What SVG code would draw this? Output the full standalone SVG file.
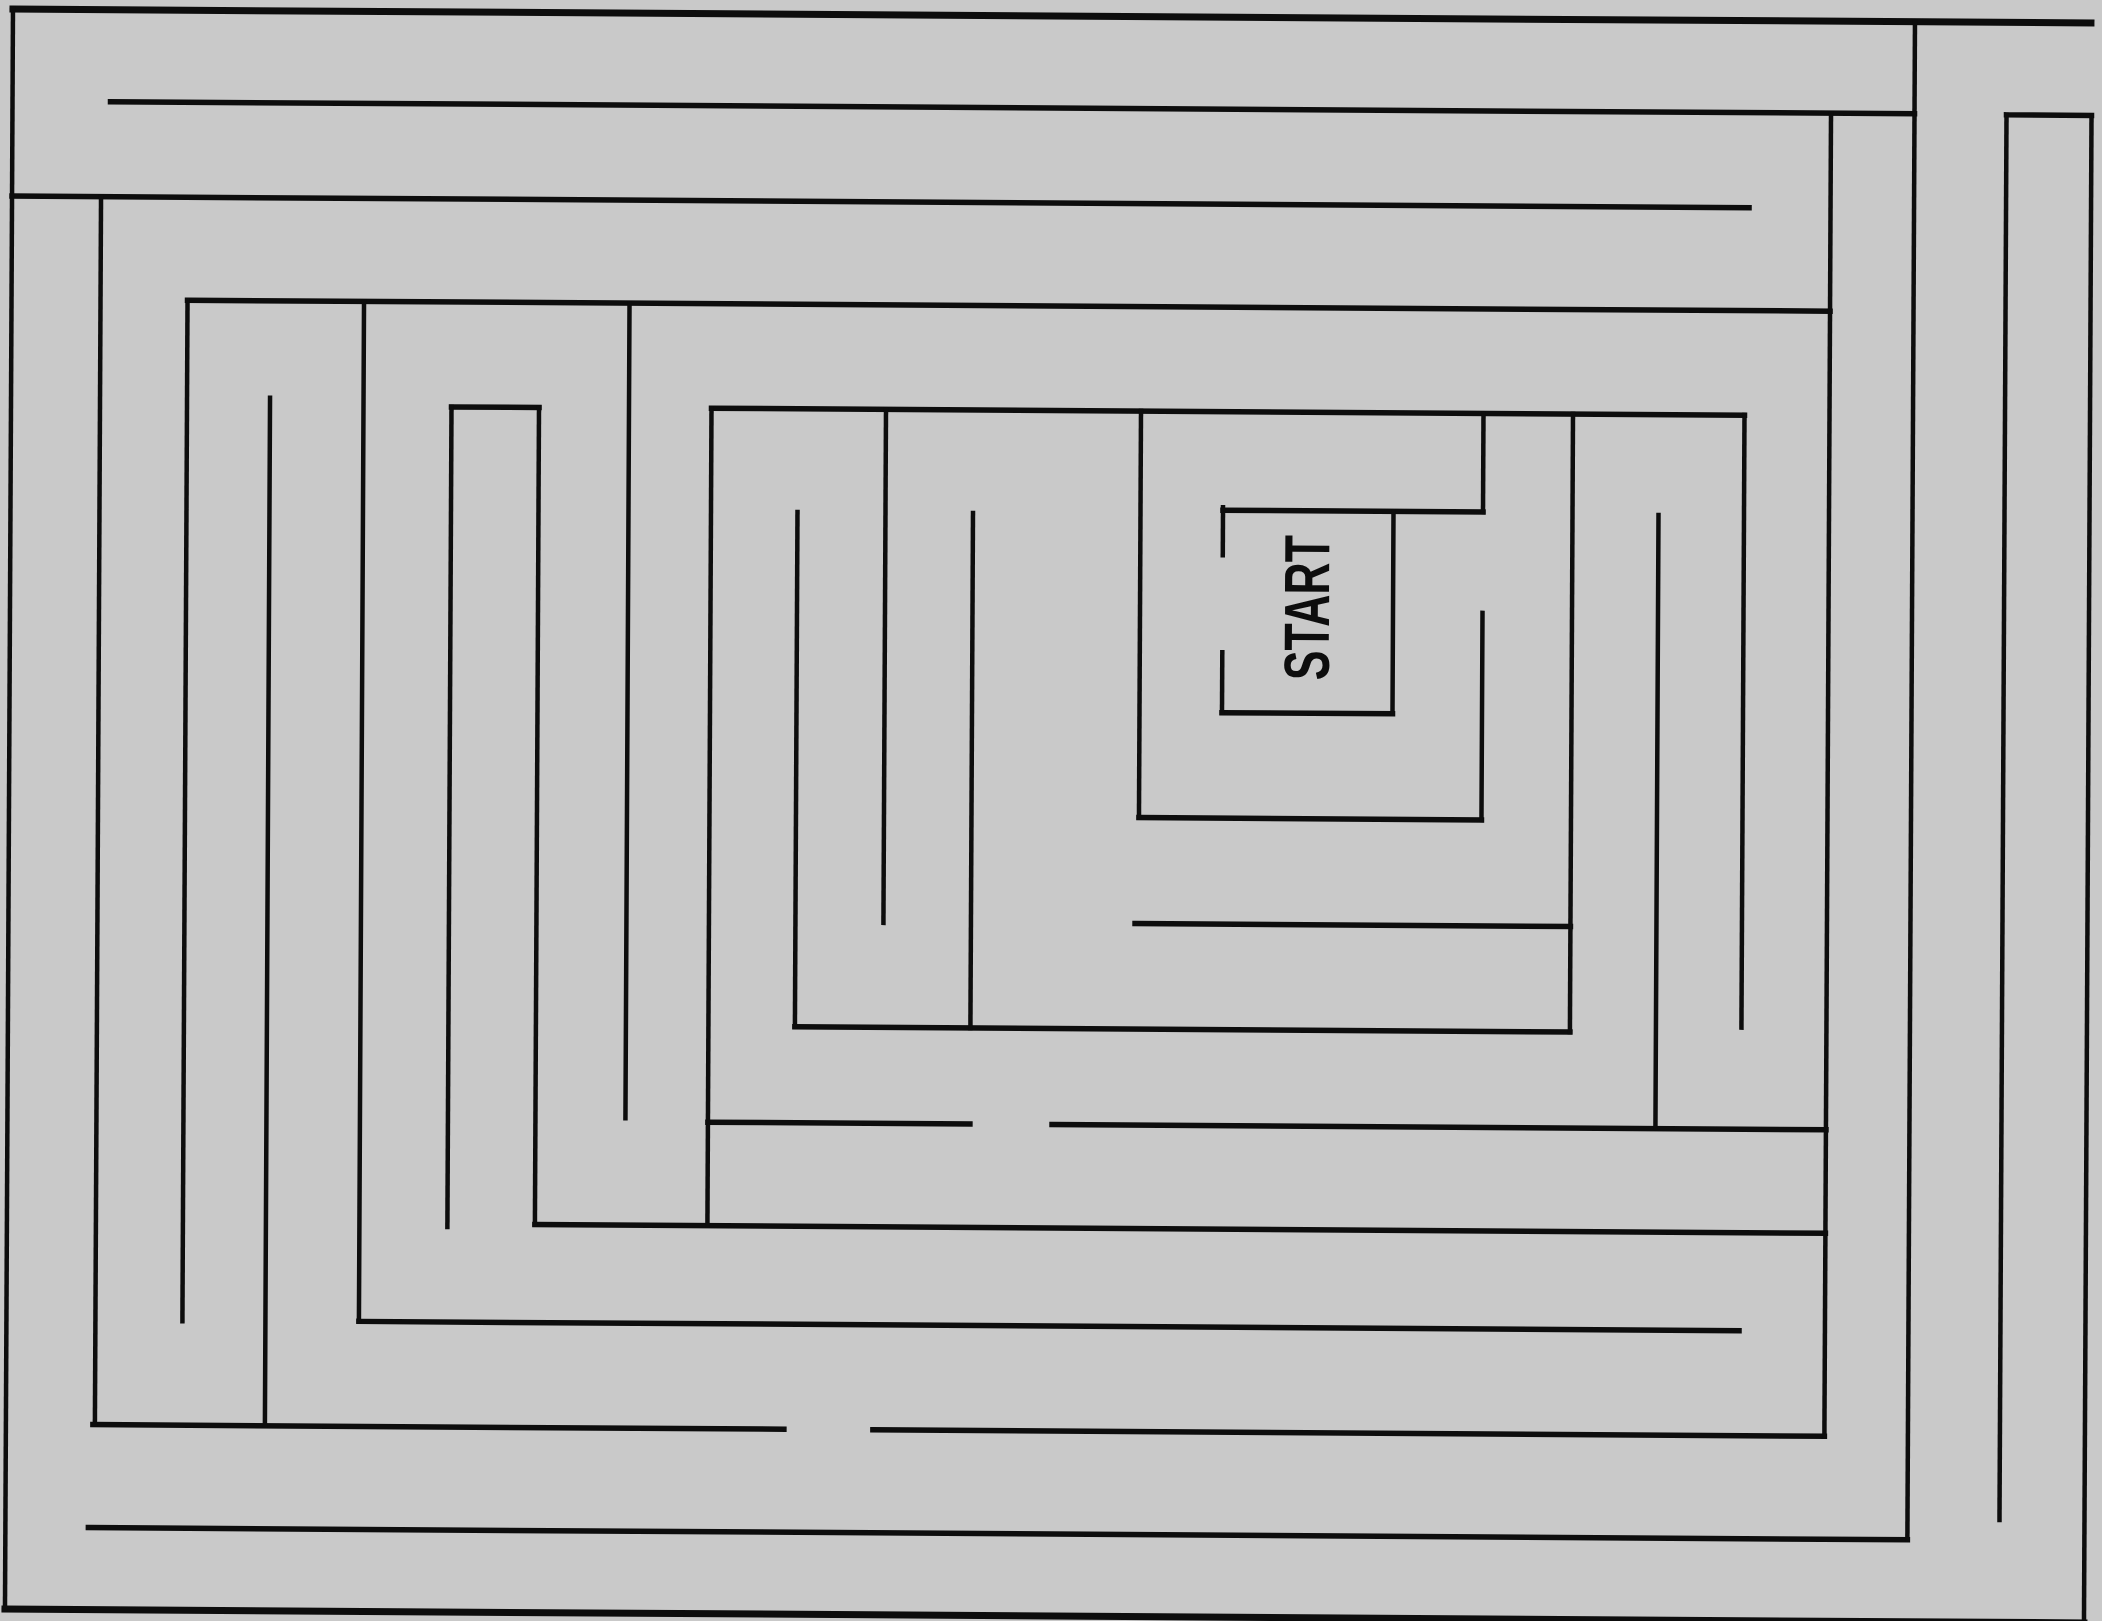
<svg xmlns="http://www.w3.org/2000/svg" width="2102" height="1621" viewBox="0 0 2102 1621">
  <style>
    .w line { stroke: #0d0d0d; stroke-linecap: square; fill: none; }
    .h { stroke-width: 5.5; }
    .v { stroke-width: 4.5; }
    .thick { stroke-width: 7; }
    .label { font-family: "Liberation Sans", Arial, sans-serif; font-size: 64px; font-weight: bold; fill: #0d0d0d; }
  </style>
  <rect x="0" y="0" width="2102" height="1621" fill="#c9c9c9"/>
  <g id="maze" transform="matrix(1,0.0067,-0.005,1,4.05,-7.04)">
    <g id="walls-horizontal" class="w">
      <line class="thick" x1="9" y1="16" x2="2087" y2="16"/>
      <line class="h" x1="107" y1="108" x2="1911" y2="108"/>
      <line class="h" x1="9" y1="203" x2="1746" y2="203"/>
      <line class="h" x1="185" y1="306" x2="1827.5" y2="306"/>
      <line class="h" x1="2003" y1="108.5" x2="2088" y2="108.5"/>
      <line class="h" x1="709.5" y1="410.5" x2="1742.5" y2="410.5"/>
      <line class="h" x1="449.5" y1="411" x2="537" y2="411"/>
      <line class="h" x1="1221.5" y1="509" x2="1481.5" y2="509"/>
      <line class="h" x1="1221.5" y1="711.5" x2="1392" y2="711.5"/>
      <line class="h" x1="1139" y1="817" x2="1481.5" y2="817"/>
      <line class="h" x1="1135.6" y1="923" x2="1571" y2="923"/>
      <line class="h" x1="796" y1="1028.5" x2="1571" y2="1028.5"/>
      <line class="h" x1="709.5" y1="1124.5" x2="971.5" y2="1124.5"/>
      <line class="h" x1="1053.6" y1="1124.5" x2="1827.5" y2="1124.5"/>
      <line class="h" x1="537" y1="1228" x2="1827.5" y2="1228"/>
      <line class="h" x1="361.5" y1="1326" x2="1741.6" y2="1326"/>
      <line class="h" x1="96" y1="1431" x2="787" y2="1431"/>
      <line class="h" x1="876" y1="1431" x2="1827.5" y2="1431"/>
      <line class="h" x1="92" y1="1534" x2="1911" y2="1534"/>
      <line class="thick" x1="9" y1="1616" x2="2088" y2="1616"/>
    </g>
    <g id="walls-vertical" class="w">
      <line class="v" x1="9" y1="16" x2="9" y2="1616"/>
      <line class="v" x1="98" y1="203" x2="98" y2="1431"/>
      <line class="v" x1="185" y1="306" x2="185" y2="1327"/>
      <line class="v" x1="268" y1="403" x2="268" y2="1431"/>
      <line class="v" x1="361.5" y1="306" x2="361.5" y2="1326"/>
      <line class="v" x1="449.5" y1="411" x2="449.5" y2="1231"/>
      <line class="v" x1="537" y1="411" x2="537" y2="1228"/>
      <line class="v" x1="627" y1="306" x2="627" y2="1121"/>
      <line class="v" x1="709.5" y1="410.5" x2="709.5" y2="1228"/>
      <line class="v" x1="796" y1="513.7" x2="796" y2="1028.5"/>
      <line class="v" x1="884" y1="410.5" x2="884" y2="924"/>
      <line class="v" x1="971.5" y1="513.5" x2="971.5" y2="1028.5"/>
      <line class="v" x1="1139" y1="410.5" x2="1139" y2="817"/>
      <line class="v" x1="1221.5" y1="506" x2="1221.5" y2="554"/>
      <line class="v" x1="1221.5" y1="651" x2="1221.5" y2="711.5"/>
      <line class="v" x1="1392" y1="509" x2="1392" y2="711.5"/>
      <line class="v" x1="1481.5" y1="410.5" x2="1481.5" y2="509"/>
      <line class="v" x1="1481.5" y1="610" x2="1481.5" y2="817"/>
      <line class="v" x1="1571" y1="410.5" x2="1571" y2="1028.5"/>
      <line class="v" x1="1657" y1="511" x2="1657" y2="1124.5"/>
      <line class="v" x1="1742.5" y1="410.5" x2="1742.5" y2="1023"/>
      <line class="v" x1="1827.5" y1="108" x2="1827.5" y2="1431"/>
      <line class="v" x1="1911" y1="16" x2="1911" y2="1534"/>
      <line class="v" x1="2003" y1="108.5" x2="2003" y2="1513.6"/>
      <line class="v" x1="2088" y1="108.5" x2="2088" y2="1616"/>
    </g>
    <g id="start">
      <text class="label" transform="translate(1328,606) rotate(-90)" x="0" y="0" text-anchor="middle" textLength="145" lengthAdjust="spacingAndGlyphs">START</text>
    </g>
  </g>
</svg>
